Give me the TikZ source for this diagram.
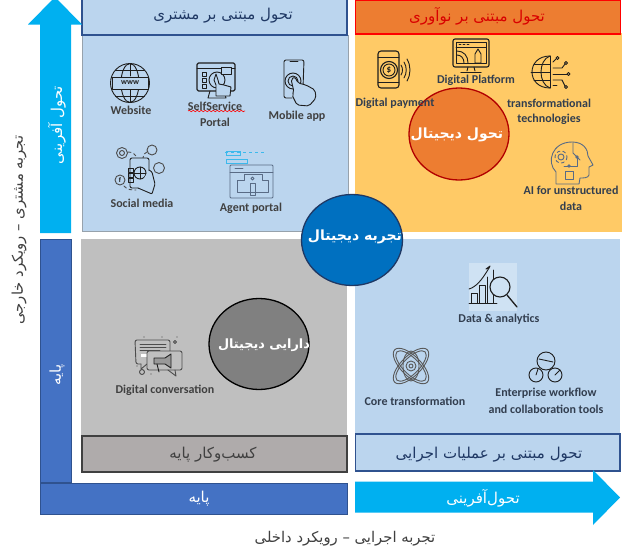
\documentclass[tikz,border=0pt]{standalone}
\usepackage{fontspec}
\setmainfont{Carlito}
\newfontfamily\arabicfont[Script=Arabic]{DejaVu Sans}
\TeXXeTstate=1
\usetikzlibrary{decorations.pathmorphing}
\definecolor{paneblue}{HTML}{BBD5EE}
\definecolor{panegold}{HTML}{FFCA66}
\definecolor{panegray}{HTML}{BFBFBF}
\definecolor{headgray}{HTML}{AFABAB}
\definecolor{headorange}{HTML}{ED7D31}
\definecolor{edgeblue}{HTML}{2F528F}
\definecolor{barblue}{HTML}{4472C4}
\definecolor{arrowcyan}{HTML}{00B0F0}
\definecolor{circleblue}{HTML}{0070C0}
\definecolor{navytext}{HTML}{1F3864}
\definecolor{darktext}{HTML}{404040}
\definecolor{slatetext}{HTML}{323E4F}
\definecolor{icongray}{HTML}{1E1E1E}
\definecolor{iconslate}{HTML}{596B85}
\newcommand{\fa}[1]{{\arabicfont\beginR #1\endR}}
\tikzset{
  headbox/.style={draw,line width=1.2pt},
  iconlab/.style={text=darktext,font=\bfseries\fontsize{12}{14}\selectfont,inner sep=0pt},
  headtext/.style={font=\fontsize{15}{18}\selectfont,inner sep=0pt},
  whitetext/.style={text=white,font=\fontsize{15}{18}\selectfont,inner sep=0pt},
  circletext/.style={text=white,font=\bfseries\fontsize{14}{17}\selectfont,inner sep=0pt},
  axistext/.style={text=darktext,font=\fontsize{14.8}{18}\selectfont,inner sep=0pt},
  iconline/.style={draw=icongray,line width=0.9pt,line join=round,line cap=round},
  bigcircle/.style={line width=1.3pt},
}
\begin{document}
\begin{tikzpicture}[x=1pt,y=-1pt]
\useasboundingbox (0,0) rectangle (622,557);
\clip (0,0) rectangle (622,557);
\fill[white] (0,0) rectangle (622,557);

% panels
\fill[paneblue] (82,0) rectangle (348,231);
\draw[gray!60!paneblue,line width=0.8pt] (348,35) -- (348,231) -- (82,231) -- (82,35);
\fill[panegold] (355,33) rectangle (622,232);
\fill[panegray] (81,239) rectangle (347,437);
\fill[paneblue] (355,239) rectangle (620,434);

% headers
\draw[headbox,draw=edgeblue,fill=paneblue] (82,-2) rectangle (347,35);
\draw[headbox,draw=red,fill=headorange] (355.5,0.5) rectangle (620.5,34);
\draw[headbox,draw=black!75,fill=headgray] (82,436) rectangle (347,472);
\draw[headbox,draw=edgeblue,fill=paneblue] (355.5,434) rectangle (620,471);
\node[headtext,text=navytext] (headcustomer) at (223,16) {\fa{تحول مبتنی بر مشتری}};
\node[headtext,text=red!85!black] (headinnovation) at (477,16) {\fa{تحول مبتنی بر نوآوری}};
\node[headtext,text=darktext] (headbasic) at (213,454.5) {\fa{کسب‌وکار پایه}};
\node[headtext,text=navytext] (headoperation) at (489,454.5) {\fa{تحول مبتنی بر عملیات اجرایی}};

% axis bars
\fill[arrowcyan] (40,233) -- (40,24.5) -- (28,24.5) -- (55,-3) -- (82,24.5) -- (71,24.5) -- (71,233) -- cycle;
\fill[arrowcyan] (355,481.5) -- (593,481.5) -- (593,470) -- (620,497.5) -- (593,525) -- (593,512.5) -- (355,512.5) -- cycle;
\draw[draw=edgeblue,fill=barblue,line width=0.8pt] (40,239.5) rectangle (71,482);
\draw[draw=edgeblue,fill=barblue,line width=0.8pt] (40,483) rectangle (347,514);
\node[whitetext,rotate=90] (arrowup) at (57,125) {\fa{تحول آفرینی}};
\node[whitetext,rotate=90] (baseleft) at (57,375) {\fa{پایه}};
\node[whitetext] (basebottom) at (199,499) {\fa{پایه}};
\node[whitetext] (arrowright) at (483,498) {\fa{تحول‌آفرینی}};
\node[axistext] (axisbottom) at (345,539) {\fa{تجربه اجرایی – رویکرد داخلی}};
\node[axistext,rotate=90] (axisleft) at (19,230) {\fa{تجربه مشتری – رویکرد خارجی}};

% circles
\draw[bigcircle,draw=black,fill=black!50] (259,344) ellipse (50 and 45.5);
\draw[bigcircle,draw=red!70!black,fill=headorange] (459,134) ellipse (50 and 46);
\draw[bigcircle,draw=navytext,fill=circleblue] (352,240) ellipse (50.5 and 45.5);
\node[circletext,font=\bfseries\fontsize{12.8}{16}\selectfont] (assets) at (264,345) {\fa{دارایی دیجیتال}};
\node[circletext] (transform) at (457,135) {\fa{تحول دیجیتال}};
\node[circletext] (experience) at (355,237) {\fa{تجربه دیجیتال}};

% website
\draw[iconline] (130,83) circle (19.5);
\draw[iconline] (130,83) ellipse (9 and 19.5);
\draw[iconline] (130,63.5) -- (130,76);
\draw[iconline] (130,90) -- (130,102.5);
\draw[iconline] (115.5,70) -- (144.5,70);
\draw[iconline] (115.5,96) -- (144.5,96);
\draw[iconline,fill=paneblue] (112,77) rectangle (148,89);
\node[text=icongray,font=\bfseries\fontsize{8}{8}\selectfont,inner sep=0pt] (www) at (130,83) {www};

% self service
\draw[iconline,line width=1.1pt,rounded corners=1.5pt,fill=paneblue] (197,63) rectangle (235,91);
\draw[iconline] (197,68) -- (235,68);
\draw[iconline] (202,72) rectangle (206,76);
\draw[iconline] (202,78) rectangle (206,82);
\draw[iconline] (202,84) rectangle (206,88);
\draw[iconline] (217,80) circle (8);
\draw[iconline,fill=paneblue] (221,67) rectangle (231,74);
\draw[iconline] (210,91) -- (208,98) -- (226,98) -- (224,91);
\draw[iconline,fill=paneblue] (216,96) -- (216,85) -- (214,80) -- (216,74) -- (218,80) -- (219,84) -- (224,85) -- (231,87) -- (230,96) -- cycle;

% mobile app
\draw[iconline,rounded corners=2pt] (303,88) -- (304,60) -- (284,60) -- (284,98) -- (292,98);
\draw[iconline] (290,61.5) -- (298,61.5);
\draw[iconline] (293,81) circle (8);
\draw[iconline] (293,81) circle (5);
\draw[iconline,fill=paneblue,rounded corners=2pt] (292,95) -- (297,105) -- (309,106) -- (316,98) -- (315,90) -- (306,85) -- (298,83) -- (295,77) -- (291,79) -- (294,92) -- cycle;

% social media
\draw[iconline,draw=black!70] (122,153) circle (5.5);
\draw[iconline,draw=black!70] (122,153) circle (2.5);
\draw[iconline,draw=black!70] (152,150) circle (5);
\draw[iconline,draw=black!70] (159,168) circle (5.5);
\draw[iconline,draw=black!70] (120,180) circle (5);
\node[text=icongray,font=\bfseries\fontsize{7}{8}\selectfont,inner sep=0pt] (fsign) at (120,180) {f};
\draw[iconline,draw=black!70,dashed] (128,152) .. controls (133,152) and (135,154) .. (137,158);
\draw[iconline,draw=black!70,dashed] (147,152) .. controls (144,153) and (143,155) .. (143,158);
\draw[iconline,draw=black!70,dashed] (124,186) .. controls (127,190) and (132,190) .. (136,190);
\draw[iconline,rounded corners=2pt,fill=paneblue] (130,158) rectangle (149,188);
\draw[iconline] (140,173) circle (6);
\draw[iconline] (134,173) -- (146,173);
\draw[iconline] (140,167) -- (140,179);
\draw[iconline,fill=paneblue,rounded corners=1pt] (138,188) -- (152,194) -- (155,184) -- (152,172) -- (149,170);
\draw[iconline] (128,168) rectangle (133,172);
\draw[iconline] (128,173) rectangle (133,177);
\draw[iconline] (128,178) rectangle (133,182);

% agent portal
\draw[cyan!70!paneblue,line width=0.7pt,dashed] (225,152) -- (267,152);
\draw[cyan!70!paneblue,line width=0.7pt] (226,151) rectangle (240,155);
\draw[cyan!70!paneblue,line width=0.7pt] (226,159) rectangle (247,163);
\draw[iconline,draw=iconslate,rounded corners=1pt] (230,165) rectangle (273,198);
\draw[iconline,draw=iconslate] (230,172) -- (273,172);
\draw[iconline,draw=iconslate] (235,168.5) -- (243,168.5);
\draw[iconline,draw=iconslate] (237,192) -- (237,180) -- (244,180) -- (244,174) -- (262,174) -- (262,180) -- (268,180) -- (268,192) -- cycle;
\draw[iconline,draw=iconslate] (250,183) rectangle (255,195);
\draw[iconline,draw=iconslate] (252.5,178.5) circle (1.5);

% digital payment
\draw[iconline,line width=1.1pt,rounded corners=3pt] (378,51) rectangle (399,88);
\draw[iconline] (378,57) -- (399,57);
\draw[iconline] (378,82) -- (399,82);
\draw[iconline,line width=1.1pt] (389,70) circle (8.5);
\draw[iconline] (389,70) circle (6);
\node[text=icongray,font=\bfseries\fontsize{9}{9}\selectfont,inner sep=0pt] (dollar) at (389,70) {\$};
\draw[iconline] (401,65) .. controls (403,68) and (403,72) .. (401,75);
\draw[iconline] (404,62) .. controls (407,67) and (407,73) .. (404,78);
\draw[iconline] (407,59) .. controls (411,66) and (411,74) .. (407,81);

% digital platform
\draw[iconline,line width=1.1pt,rounded corners=2pt] (453,39) rectangle (489,67);
\draw[iconline] (456,42) rectangle (486,63);
\draw[iconline] (456,47) -- (486,47);
\draw[iconline] (459,44.5) -- (461,44.5);
\draw[iconline] (463,44.5) -- (465,44.5);
\draw[iconline] (467,44.5) -- (469,44.5);
\draw[iconline] (457,51) .. controls (464,51) and (468,56) .. (468,63);
\draw[iconline] (457,55) .. controls (461,55) and (464,58) .. (464,63);
\draw[iconline] (475,63) -- (475,54) -- (478,49) -- (481,54) -- (481,63) -- cycle;
\draw[iconline] (468,67) -- (467,71);
\draw[iconline] (474,67) -- (475,71);
\draw[iconline,line width=1.1pt] (461,72.5) -- (481,72.5);

% transformational technologies
\draw[iconline] (550,56) .. controls (526,56) and (526,88) .. (550,88);
\draw[iconline] (550,56) .. controls (538,60) and (538,84) .. (550,88);
\draw[iconline] (550,56) -- (550,88);
\draw[iconline] (534,64) -- (550,64);
\draw[iconline] (531,72) -- (550,72);
\draw[iconline] (534,80) -- (550,80);
\draw[iconline] (553,62) -- (556,59);
\draw[iconline] (553,68) -- (562,68) -- (565,64);
\draw[iconline] (553,74) -- (567,74);
\draw[iconline] (553,80) -- (562,80) -- (565,86);
\draw[iconline] (553,85) -- (557,85);
\draw[iconline] (557.5,58) circle (1.5);
\draw[iconline] (566,63) circle (1.5);
\draw[iconline] (568.5,74) circle (1.5);
\draw[iconline] (566,87) circle (1.5);

% ai head
\draw[iconline,draw=iconslate] (556,184) -- (556,172) .. controls (546,162) and (552,142) .. (572,142) .. controls (584,142) and (588,150) .. (588,156) -- (593,165) -- (589,167) -- (589,175) .. controls (588,178) and (584,178) .. (580,178) -- (579,184) -- cycle;
\draw[iconline,draw=iconslate,dashed] (561,157) circle (6);
\draw[iconline,draw=iconslate] (561,157) circle (3);
\draw[iconline,draw=iconslate] (570,166) -- (577,166) -- (577,157);
\draw[iconline,draw=iconslate] (573,143) -- (573,153) -- (580,160);
\draw[iconline,draw=iconslate] (564,166) -- (568,166);
\draw[iconline,draw=iconslate] (565,171) rectangle (573,179);
\draw[iconline,draw=iconslate,fill=iconslate] (577,157) circle (1.2);
\draw[iconline,draw=iconslate,fill=iconslate] (569,166) circle (1.2);

% data and analytics
\fill[paneblue!70!white] (469,263) rectangle (517,311);
\draw[iconline] (469,303) -- (497,303);
\draw[iconline] (471,303) -- (471,293) -- (477,293) -- (477,303);
\draw[iconline] (479,303) -- (479,285) -- (485,285) -- (485,303);
\draw[iconline] (487,303) -- (487,277);
\draw[iconline] (493,270) -- (493,303);
\draw[iconline] (469,289) .. controls (476,287) and (482,280) .. (489,268);
\draw[iconline,fill=icongray] (489,268) -- (486,269) -- (490,266) -- cycle;
\draw[iconline,line width=1.1pt,fill=paneblue!70!white] (500,287) circle (10);
\draw[iconline,line width=1.3pt] (507,295) -- (517,307);

% core transformation
\draw[iconline,draw=black!65,rotate around={45:(411,366)}] (411,366) ellipse (23 and 10);
\draw[iconline,draw=black!65,rotate around={45:(411,366)}] (411,366) ellipse (20 and 8);
\draw[iconline,draw=black!65,rotate around={-45:(411,366)}] (411,366) ellipse (23 and 10);
\draw[iconline,draw=black!65,rotate around={-45:(411,366)}] (411,366) ellipse (20 and 8);
\draw[iconline,draw=black!65] (411,366) ellipse (8 and 15);
\draw[iconline,draw=black!65] (411,366) circle (5);
\draw[iconline,draw=black!65] (411,366) circle (2);

% workflow
\draw[iconline] (546,361) circle (9);
\draw[iconline] (536,375) circle (7);
\draw[iconline] (555,375) circle (7);
\draw[iconline] (539,359) -- (553,362);
\draw[iconline] (536,375) -- (538,369);
\draw[iconline] (555,375) -- (560,370);

% digital conversation
\draw[iconline,draw=black!70,rounded corners=2pt] (141,364) -- (136,364) -- (135,340) -- (170,340) -- (170,351);
\draw[iconline,draw=black!70] (141,364) -- (141,369) -- (147,364);
\draw[iconline,draw=black!70] (140,344) -- (166,344);
\draw[iconline,draw=black!70] (140,347) -- (166,347);
\draw[iconline,draw=black!70] (140,350) -- (160,350);
\fill[white] (141,354) rectangle (172,357);
\draw[iconline,draw=black!70,rounded corners=2pt,fill=panegray] (147,351) rectangle (182,370);
\draw[iconline,draw=black!70] (168,370) -- (176,376) -- (175,370);
\draw[iconline,fill=black!40] (154,358) -- (165,358) -- (171,354) -- (171,368) -- (165,364) -- (154,364) -- cycle;
\draw[iconline] (157,364) -- (159,372);
\draw[iconline,draw=black!70] (142,372) circle (2.5);
\draw[iconline,draw=black!70] (175,342) circle (1.5);
\fill[black!70] (144,337) circle (0.7);
\fill[black!70] (162,337) circle (0.7);
\fill[black!70] (177,337) circle (0.7);
\fill[black!70] (137,366) circle (0.7);
\fill[black!70] (151,374) circle (0.7);

% icon labels
\draw[red,line width=0.6pt,decorate,decoration={snake,amplitude=0.7,segment length=4}] (188,111) -- (245,111);
\node[iconlab] (website) at (131,110) {Website};
\node[iconlab] (selfservice) at (215,106) {SelfService};
\node[iconlab] (portal) at (215,122) {Portal};
\node[iconlab] (mobile) at (297,116) {Mobile app};
\node[iconlab] (social) at (142,203) {Social media};
\node[iconlab] (agent) at (251,208) {Agent portal};
\node[iconlab,text=slatetext] (payment) at (395,103) {Digital payment};
\node[iconlab,text=slatetext] (platform) at (476,80) {Digital Platform};
\node[iconlab,text=slatetext] (techa) at (549,103) {transformational};
\node[iconlab,text=slatetext] (techb) at (549,119) {technologies};
\node[iconlab,text=slatetext] (aia) at (571,190) {AI for unstructured};
\node[iconlab,text=slatetext] (aib) at (571,206) {data};
\node[iconlab,text=slatetext] (data) at (499,319) {Data \& analytics};
\node[iconlab,text=slatetext] (core) at (415,401) {Core transformation};
\node[iconlab,text=slatetext] (enterprisea) at (546,393) {Enterprise workflow};
\node[iconlab,text=slatetext] (enterpriseb) at (546,409) {and collaboration tools};
\node[iconlab] (conversation) at (165,390) {Digital conversation};
\end{tikzpicture}
\end{document}
